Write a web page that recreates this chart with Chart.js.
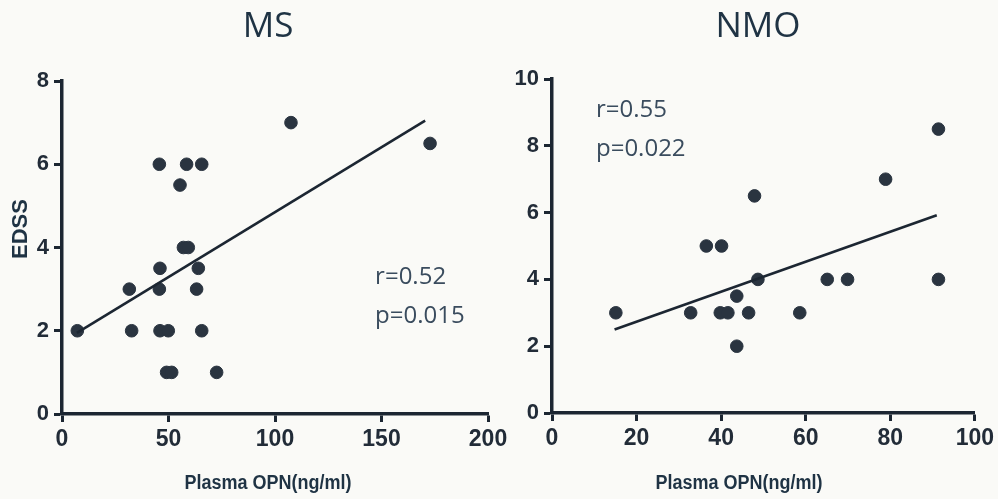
<!DOCTYPE html>
<html>
<head>
<meta charset="utf-8">
<script src="https://cdn.jsdelivr.net/npm/chart.js@4.4.1/dist/chart.umd.min.js"></script>
<style>
  html, body { margin:0; padding:0; background:#fafaf7; }
  #wrap { position:relative; width:998px; height:499px; overflow:hidden; }
  #c1 { position:absolute; left:0; top:0; }
  #c2 { position:absolute; left:470px; top:0; }
</style>
</head>
<body>
<div id="wrap">
  <canvas id="c1" width="530" height="499"></canvas>
  <canvas id="c2" width="528" height="499"></canvas>
</div>
<script>
// ---- Data ----
const msOPN  = [7.2, 31.6, 32.7, 45.7, 46, 45.7, 46, 49.9, 49.1, 51.5, 55.4, 58.5, 57, 59.3, 65.6, 64, 63.2, 65.6, 72.6, 107.5, 172.8];
const msEDSS = [2, 3, 2, 6, 3.5, 3, 2, 2, 1, 1, 5.5, 6, 4, 4, 6, 3.5, 3, 2, 1, 7, 6.5];
const msFitX = [7, 170.5];
const msFitY = [1.95, 7.05];

const nmoOPN  = [15.1, 32.8, 36.5, 40.1, 39.8, 41.6, 43.7, 43.7, 46.5, 47.9, 48.7, 58.6, 65.1, 69.9, 78.9, 91.4, 91.4];
const nmoEDSS = [3, 3, 5, 5, 3, 3, 3.5, 2, 3, 6.5, 4, 3, 4, 4, 7, 8.5, 4];
const nmoFitX = [14.8, 91];
const nmoFitY = [2.5, 5.92];

const titles = ["MS", "NMO"];
const xTitle = "Plasma OPN(ng/ml)";
const yTitle = "EDSS";
const msStats  = ["r=0.52", "p=0.015"];
const nmoStats = ["r=0.55", "p=0.022"];
// anchors of the statistic texts, in data units
const msStatX = [147, 147];   const msStatY = [3.29, 2.36];
const nmoStatX = [10.4, 10.4]; const nmoStatY = [9.08, 7.91];

const msXTicks = [0, 50, 100, 150, 200];
const msYTicks = [0, 2, 4, 6, 8];
const nmoXTicks = [0, 20, 40, 60, 80, 100];
const nmoYTicks = [0, 2, 4, 6, 8, 10];

// ---- Styling ----
const INK = '#1c2632';
const DOT = '#2a3440';
const TXT = '#1f3344';
const TICKFONT = "'Liberation Sans Narrow', 'Arial Narrow', 'Liberation Sans', sans-serif";

function pts(xs, ys) { return xs.map((x, i) => ({x: x, y: ys[i]})); }

const textPlugin = {
  id: 'texts',
  afterDraw(chart) {
    const o = chart.options.plugins.texts;
    const ctx = chart.ctx;
    const xs = chart.scales.x, ys = chart.scales.y;
    ctx.save();
    // panel title
    ctx.fillStyle = TXT;
    ctx.font = "35px 'Open Sans', sans-serif";
    ctx.textAlign = 'center';
    ctx.textBaseline = 'middle';
    ctx.fillText(o.title, o.titleX, 27);
    // x axis title (slightly condensed)
    ctx.save();
    ctx.translate(o.xTitleX, 483);
    ctx.scale(0.9, 1);
    ctx.font = "bold 20px " + TICKFONT;
    ctx.fillText(o.xTitle, 0, 0);
    ctx.restore();
    // y axis title
    if (o.yTitle) {
      ctx.save();
      ctx.translate(o.yTitleX, o.yTitleY);
      ctx.rotate(-Math.PI / 2);
      ctx.font = "bold 22px " + TICKFONT;
      ctx.fillText(o.yTitle, 0, 0);
      ctx.restore();
    }
    // stats
    ctx.fillStyle = '#3a4c5e';
    ctx.font = "24px 'Open Sans', sans-serif";
    ctx.textAlign = 'left';
    o.stats.forEach((s, i) => {
      ctx.fillText(s, xs.getPixelForValue(o.statX[i]), ys.getPixelForValue(o.statY[i]));
    });
    ctx.restore();
  }
};

function makeChart(id, cfg) {
  const tickStyle = {
    color: '#222c38',
    font: { family: TICKFONT, weight: 'bold', size: 23 },
  };
  return new Chart(document.getElementById(id), {
    type: 'scatter',
    data: {
      datasets: [
        {
          type: 'line',
          data: pts(cfg.fitX, cfg.fitY),
          borderColor: INK,
          borderWidth: 2.6,
          pointRadius: 0,
          fill: false,
        },
        {
          data: pts(cfg.xs, cfg.ys),
          backgroundColor: DOT,
          borderColor: DOT,
          pointRadius: 6.3,
          pointHoverRadius: 6.3,
        }
      ]
    },
    options: {
      responsive: false,
      animation: false,
      events: [],
      layout: { padding: cfg.padding },
      plugins: {
        legend: { display: false },
        tooltip: { enabled: false },
        title: { display: false },
        texts: cfg.texts,
      },
      scales: {
        x: {
          type: 'linear',
          min: cfg.xTicks[0], max: cfg.xTicks[cfg.xTicks.length - 1],
          afterBuildTicks: (s) => { s.ticks = cfg.xTicks.map(v => ({value: v})); },
          border: { display: true, width: 3.5, color: INK },
          grid: { display: true, drawOnChartArea: false, drawTicks: true, tickLength: 8, tickWidth: 3, tickColor: INK },
          ticks: Object.assign({ padding: 4, maxRotation: 0, autoSkip: false }, tickStyle),
          afterFit: (s) => { s.height = cfg.xHeight; },
        },
        y: {
          type: 'linear',
          min: cfg.yTicks[0], max: cfg.yTicks[cfg.yTicks.length - 1],
          afterBuildTicks: (s) => { s.ticks = cfg.yTicks.map(v => ({value: v})); },
          border: { display: true, width: 3.5, color: INK },
          grid: { display: true, drawOnChartArea: false, drawTicks: true, tickLength: 8, tickWidth: 3, tickColor: INK },
          ticks: Object.assign({ padding: 5, autoSkip: false }, tickStyle, { font: { family: TICKFONT, weight: 'bold', size: 22 } }),
          afterFit: (s) => { s.width = cfg.yWidth; },
        }
      }
    },
    plugins: [textPlugin]
  });
}

makeChart('c1', {
  xs: msOPN, ys: msEDSS, fitX: msFitX, fitY: msFitY,
  xTicks: msXTicks, yTicks: msYTicks,
  padding: { left: 0, right: 42, top: 81, bottom: 0 },
  yWidth: 62, xHeight: 85,
  texts: { title: titles[0], titleX: 268, xTitle: xTitle, xTitleX: 268,
           yTitle: yTitle, yTitleX: 21, yTitleY: 229,
           stats: msStats, statX: msStatX, statY: msStatY }
});

makeChart('c2', {
  xs: nmoOPN, ys: nmoEDSS, fitX: nmoFitX, fitY: nmoFitY,
  xTicks: nmoXTicks, yTicks: nmoYTicks,
  padding: { left: 0, right: 20, top: 79, bottom: 0 },
  yWidth: 82, xHeight: 86,
  texts: { title: titles[1], titleX: 758 - 470, xTitle: xTitle, xTitleX: 739 - 470,
           yTitle: null,
           stats: nmoStats, statX: nmoStatX, statY: nmoStatY }
});
</script>
</body>
</html>
